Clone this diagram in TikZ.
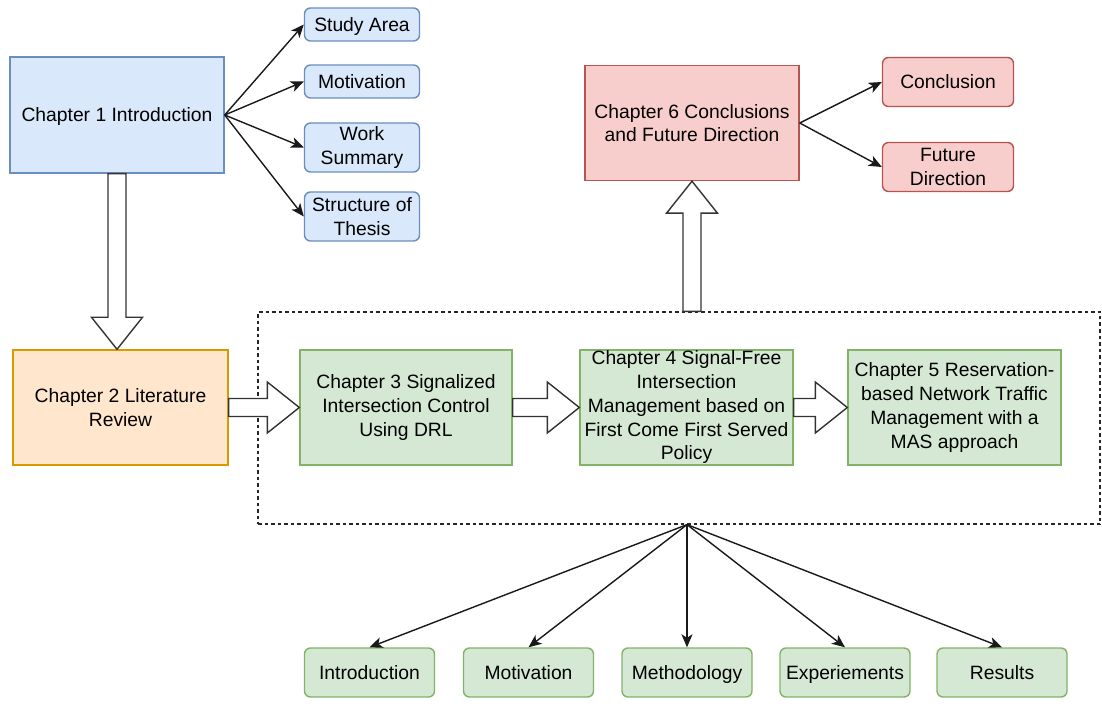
\documentclass[tikz,border=0pt]{standalone}
\usepackage{fontspec}
\setmainfont{Liberation Sans}
\usetikzlibrary{arrows.meta,calc}

\definecolor{blueFill}{HTML}{DAE8FC}
\definecolor{blueLine}{HTML}{6C8EBF}
\definecolor{orangeFill}{HTML}{FFE6CC}
\definecolor{orangeLine}{HTML}{D79B00}
\definecolor{greenFill}{HTML}{D5E8D4}
\definecolor{greenLine}{HTML}{82B366}
\definecolor{redFill}{HTML}{F8CECC}
\definecolor{redLine}{HTML}{B85450}
\definecolor{inkGray}{HTML}{333333}

% hollow block arrow from #1 to #2
\newcommand\fatarrow[2]{%
  \path let \p1=(#1), \p2=(#2) in
    \pgfextra{%
      \pgfmathsetmacro\fatlen{veclen(\x2-\x1,\y2-\y1)}%
      \pgfmathsetmacro\fatang{atan2(\y2-\y1,\x2-\x1)}%
      \xdef\fatlen{\fatlen}\xdef\fatang{\fatang}};
  \begin{scope}[shift={(#1)},rotate=\fatang]
    \draw[fatline] (0pt,-9pt) -- ({\fatlen pt-32pt},-9pt) -- ({\fatlen pt-32pt},-25.5pt)
      -- (\fatlen pt,0pt) -- ({\fatlen pt-32pt},25.5pt) -- ({\fatlen pt-32pt},9pt)
      -- (0pt,9pt) -- cycle;
  \end{scope}}

\tikzset{
  box/.style={draw, line width=1.4pt, align=center, inner sep=0pt,
    font=\fontsize{19.3}{23.75}\selectfont, text=black},
  oneline/.style={text height=16pt, text depth=2.5pt},
  chapter/.style={box, minimum width=#1, minimum height=115pt},
  sub/.style={box, rounded corners=6pt, minimum width=115pt},
  leaf/.style={box, rounded corners=6pt, minimum width=130pt, minimum height=49pt},
  blue/.style={fill=blueFill, draw=blueLine},
  orange/.style={fill=orangeFill, draw=orangeLine},
  green/.style={fill=greenFill, draw=greenLine},
  red/.style={fill=redFill, draw=redLine},
  conn/.style={draw=black!90, line width=1.4pt,
    -{Stealth[length=13pt,width=11pt,inset=3.5pt]}},
  fatline/.style={draw=inkGray, line width=1.4pt, fill=white, line join=miter},
  group/.style={draw=black!85, line width=1.2pt, dash pattern=on 3.5pt off 3pt,
    minimum width=842pt, minimum height=212pt, inner sep=0pt}
}

\begin{document}
\begin{tikzpicture}[x=1pt,y=-1pt]
  \useasboundingbox (0,0) rectangle (1102,708);

  % chapter 1 and its parts
  \node[chapter=214pt, blue, minimum height=116pt, oneline] (c1) at (117,115) {Chapter 1 Introduction};
  \node[sub, blue, minimum height=33pt, oneline] (sa) at (362,24.5) {Study Area};
  \node[sub, blue, minimum height=33pt, oneline] (mo) at (362,81.5) {Motivation};
  \node[sub, blue, minimum height=49pt] (ws) at (362,147.5) {Work\\Summary};
  \node[sub, blue, minimum height=49pt] (st) at (362,216.5) {Structure of\\Thesis};

  % chapter 2 to 5
  \node[chapter=215pt, orange] (c2) at (120.5,407.5) {Chapter 2 Literature\\Review};
  \node[group] (grp) at (679,418) {};
  \node[chapter=212pt, green] (c3) at (406,407.5) {Chapter 3 Signalized\\Intersection Control\\Using DRL};
  \node[chapter=213pt, green] (c4) at (686.5,407.5) {Chapter 4 Signal-Free\\Intersection\\Management based on\\First Come First Served\\Policy};
  \node[chapter=213pt, green] (c5) at (954.5,407.5) {Chapter 5 Reservation-\\based Network Traffic\\Management with a\\MAS approach};

  % chapter 6 and its parts
  \node[chapter=214pt, red] (c6) at (692,123) {Chapter 6 Conclusions\\and Future Direction};
  \node[leaf, red, minimum width=131pt, oneline] (co) at (948,82) {Conclusion};
  \node[leaf, red, minimum width=131pt] (fd) at (948,167) {Future\\Direction};

  % common sections of chapters 3 to 5
  \node[leaf, green, oneline] (l1) at (369.5,672.5) {Introduction};
  \node[leaf, green, oneline] (l2) at (528.5,672.5) {Motivation};
  \node[leaf, green, oneline] (l3) at (687,672.5) {Methodology};
  \node[leaf, green, oneline] (l4) at (845,672.5) {Experiements};
  \node[leaf, green, oneline] (l5) at (1002,672.5) {Results};

  % thin connectors
  \foreach \t in {sa,mo,ws,st} \draw[conn] (c1.east) -- (\t.west);
  \draw[conn] (c6.east) -- (co.west);
  \draw[conn] (c6.east) -- (fd.west);
  \coordinate (hub) at (l3 |- grp.south);
  \foreach \t in {l1,l2,l3,l4,l5} \draw[conn] (hub) -- (\t.north);

  % block arrows
  \coordinate (c1to) at (c1.south |- c2.north);
  \fatarrow{c1.south}{c1to}
  \fatarrow{c2.east}{c3.west}
  \fatarrow{c3.east}{c4.west}
  \fatarrow{c4.east}{c5.west}
  \coordinate (grpout) at (c6 |- grp.north);
  \fatarrow{grpout}{c6.south}
\end{tikzpicture}
\end{document}
